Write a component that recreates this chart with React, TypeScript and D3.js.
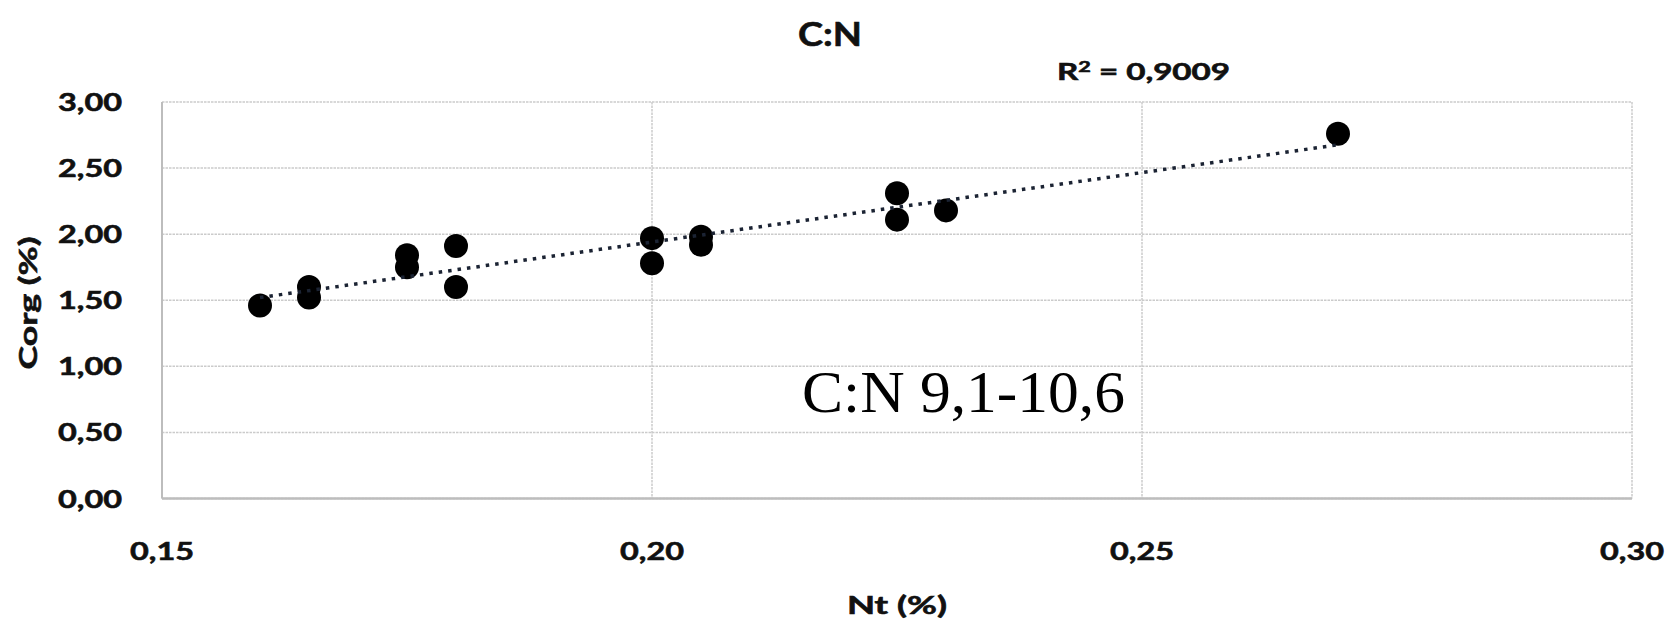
import * as d3 from "d3";

// Nt (%) vs Corg (%)
const nt = [0.16, 0.165, 0.165, 0.175, 0.175, 0.18, 0.18, 0.2, 0.2, 0.205, 0.205, 0.225, 0.225, 0.23, 0.27];
const corg = [1.46, 1.6, 1.52, 1.84, 1.75, 1.91, 1.6, 1.97, 1.78, 1.98, 1.92, 2.31, 2.11, 2.18, 2.76];

const xTicks = [0.15, 0.2, 0.25, 0.3];
const yTicks = [0, 0.5, 1, 1.5, 2, 2.5, 3];

const TITLE = "C:N";
const R2_LABEL = "0,9009";
const NOTE = "C:N 9,1-10,6";
const X_TITLE = "Nt (%)";
const Y_TITLE = "Corg (%)";

const WIDTH = 1669;
const HEIGHT = 624;
const MARGIN = { top: 102, right: 37, bottom: 125.5, left: 162 };

const FONT = "Lato, 'Open Sans', sans-serif";
const commaFmt = d3.formatLocale({ decimal: ",", thousands: ".", grouping: [3], currency: ["", ""] });

// bold labels a touch heavier, like the original's Calibri
const boldText = {
  fontFamily: FONT,
  fontWeight: 700,
  fill: "#111",
  stroke: "#111",
  strokeWidth: 0.6,
  lengthAdjust: "spacingAndGlyphs",
};

export default function App() {
  const boundsWidth = WIDTH - MARGIN.left - MARGIN.right;
  const boundsHeight = HEIGHT - MARGIN.top - MARGIN.bottom;

  const xScale = d3.scaleLinear().domain([0.15, 0.3]).range([0, boundsWidth]);
  const yScale = d3.scaleLinear().domain([0, 3]).range([boundsHeight, 0]);

  const fx = commaFmt.format(".2f");

  // least squares trend line
  const mx = d3.mean(nt) as number;
  const my = d3.mean(corg) as number;
  const sxy = d3.sum(nt, (x, i) => (x - mx) * (corg[i] - my));
  const sxx = d3.sum(nt, (x) => (x - mx) * (x - mx));
  const slope = sxy / sxx;
  const icpt = my - slope * mx;
  const [x0, x1] = d3.extent(nt) as [number, number];
  const trend = d3
    .line<number>()
    .x((d) => xScale(d))
    .y((d) => yScale(icpt + slope * d))([x0, x1]);

  return (
    <svg
      width={WIDTH}
      height={HEIGHT}
      style={{ position: "absolute", left: 0, top: 0, background: "#fff" }}
    >
      <text x={830} y={46} textAnchor="middle" fontSize={33} textLength={64} {...boldText}>
        {TITLE}
      </text>
      <text x={1057} y={80} fontSize={23} textLength={173} {...boldText}>
        R<tspan dy={-8} fontSize={15}>2</tspan><tspan dy={8}> = {R2_LABEL}</tspan>
      </text>

      <g transform={`translate(${MARGIN.left},${MARGIN.top})`}>
        {yTicks.map((t) => (
          <line key={"gy" + t} x1={0} x2={boundsWidth} y1={yScale(t)} y2={yScale(t)} stroke="#cbcbcb" strokeWidth={1.5} strokeDasharray="2.5 1" />
        ))}
        {xTicks.map((t) => (
          <line key={"gx" + t} x1={xScale(t)} x2={xScale(t)} y1={0} y2={boundsHeight} stroke="#cbcbcb" strokeWidth={1.5} strokeDasharray="2.5 1" />
        ))}
        <line x1={0} x2={0} y1={0} y2={boundsHeight} stroke="#bdbdbd" strokeWidth={2} />
        <line x1={0} x2={boundsWidth} y1={boundsHeight} y2={boundsHeight} stroke="#bdbdbd" strokeWidth={2.5} />

        {yTicks.map((t) => (
          <text key={"ly" + t} x={-40} y={yScale(t) + 9} textAnchor="end" fontSize={25.5} textLength={64} {...boldText}>
            {fx(t)}
          </text>
        ))}
        {xTicks.map((t) => (
          <text key={"lx" + t} x={xScale(t)} y={boundsHeight + 61.5} textAnchor="middle" fontSize={25.5} textLength={64} {...boldText}>
            {fx(t)}
          </text>
        ))}

        <text x={640} y={310} fontFamily="'Liberation Serif', 'Times New Roman', serif" fontSize={60} textLength={323} lengthAdjust="spacingAndGlyphs" fill="#000">
          {NOTE}
        </text>

        {nt.map((x, i) => (
          <circle key={"p" + i} cx={xScale(x)} cy={yScale(corg[i])} r={12} fill="#000" />
        ))}
        <path d={trend ?? ""} fill="none" stroke="#1b2333" strokeWidth={3.5} strokeDasharray="3.5 6" />
      </g>

      <text x={897} y={614} textAnchor="middle" fontSize={25} textLength={100} {...boldText}>
        {X_TITLE}
      </text>
      <text transform="translate(37,303) rotate(-90)" textAnchor="middle" fontSize={25} textLength={133} {...boldText}>
        {Y_TITLE}
      </text>
    </svg>
  );
}
